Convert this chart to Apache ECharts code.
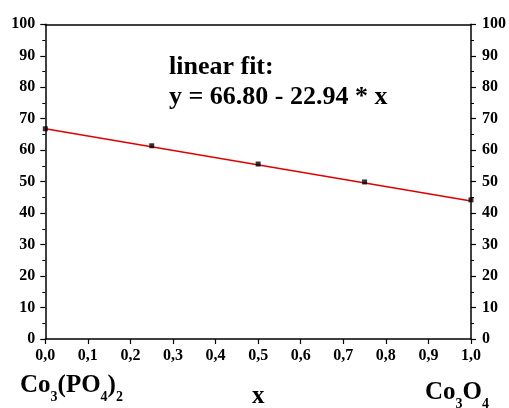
<!DOCTYPE html>
<html>
<head>
<meta charset="utf-8">
<script src="https://cdn.jsdelivr.net/npm/echarts@6/dist/echarts.min.js"></script>
<style>html,body{margin:0;padding:0;background:#fff;}#c{width:509px;height:408px;}</style>
</head>
<body>
<div id="c"></div>
<script>
// ---- data ----
var pointX = [0, 0.25, 0.5, 0.75, 1.0];
var pointY = [66.8, 61.4, 55.6, 49.9, 44.2];
var fitX = [0, 1.0];
var fitY = [66.80, 43.86];
var xTickLabels = ['0,0','0,1','0,2','0,3','0,4','0,5','0,6','0,7','0,8','0,9','1,0'];
var yTickLabels = ['0','10','20','30','40','50','60','70','80','90','100'];
var fitText = ['linear fit:', 'y = 66.80 - 22.94 * x'];
var xName = 'x';

var FF = "'Liberation Serif','Times New Roman',serif";
var chart = echarts.init(document.getElementById('c'), null, {renderer: 'canvas'});

function pairs(xs, ys) { return xs.map(function (x, i) { return [x, ys[i]]; }); }

var axLine = {show: true, onZero: false, lineStyle: {color: '#000', width: 1.5}};
var yAxisBase = {
  type: 'value', min: 0, max: 100, interval: 10,
  axisLine: axLine,
  axisTick: {show: true, inside: false, length: 5, lineStyle: {color: '#000', width: 1.2}},
  minorTick: {show: true, splitNumber: 2, length: 3, lineStyle: {color: '#000', width: 1}},
  splitLine: {show: false},
  axisLabel: {
    color: '#000', fontFamily: FF, fontWeight: 'bold', fontSize: 16,
    formatter: function (v) { return yTickLabels[Math.round(v / 10)]; }
  }
};

var sub = {fontFamily: FF, fontWeight: 'bold', fontSize: 14, color: '#000', lineHeight: 30, padding: [22, 0, 0, 0]};
var main = {fontFamily: FF, fontWeight: 'bold', fontSize: 25, color: '#000', lineHeight: 30};

chart.setOption({
  animation: false,
  grid: {left: 45.3, right: 38, top: 24.3, bottom: 69, containLabel: false, outerBoundsMode: 'none'},
  xAxis: [{
    type: 'value', min: 0, max: 1, interval: 0.1, position: 'bottom',
    axisLine: axLine,
    axisTick: {show: true, inside: false, length: 5, lineStyle: {color: '#000', width: 1.2}},
    splitLine: {show: false},
    axisLabel: {
      color: '#000', fontFamily: FF, fontWeight: 'bold', fontSize: 16, margin: 9,
      formatter: function (v) { return xTickLabels[Math.round(v * 10)]; }
    },
    name: xName, nameLocation: 'middle', nameGap: 45,
    nameTextStyle: {color: '#000', fontFamily: FF, fontWeight: 'bold', fontSize: 25}
  }, {
    type: 'value', min: 0, max: 1, interval: 0.1, position: 'top',
    axisLine: axLine, axisTick: {show: false}, axisLabel: {show: false}, splitLine: {show: false}
  }],
  yAxis: [
    Object.assign({}, yAxisBase, {position: 'left', axisLabel: Object.assign({}, yAxisBase.axisLabel, {margin: 10})}),
    Object.assign({}, yAxisBase, {position: 'right', axisLabel: Object.assign({}, yAxisBase.axisLabel, {margin: 11})})
  ],
  series: [{
    type: 'line', data: pairs(fitX, fitY), showSymbol: false, symbol: 'none',
    lineStyle: {color: '#e00000', width: 1.5}, z: 2
  }, {
    type: 'scatter', data: pairs(pointX, pointY), symbol: 'rect', symbolSize: 5,
    itemStyle: {color: '#000'}, z: 3, clip: false
  }],
  graphic: [{
    type: 'text', left: 169, top: 52,
    style: {text: fitText.join('\n'), fontFamily: FF, fontWeight: 'bold', fontSize: 26, lineHeight: 30, fill: '#000'}
  }, {
    type: 'text', left: 20, top: 368,
    style: {
      text: '{m|Co}{s|3}{m|(PO}{s|4}{m|)}{s|2}',
      rich: {m: main, s: sub}
    }
  }, {
    type: 'text', left: 425, top: 375,
    style: {
      text: '{m|Co}{s|3}{m|O}{s|4}',
      rich: {m: main, s: sub}
    }
  }]
});
</script>
</body>
</html>
